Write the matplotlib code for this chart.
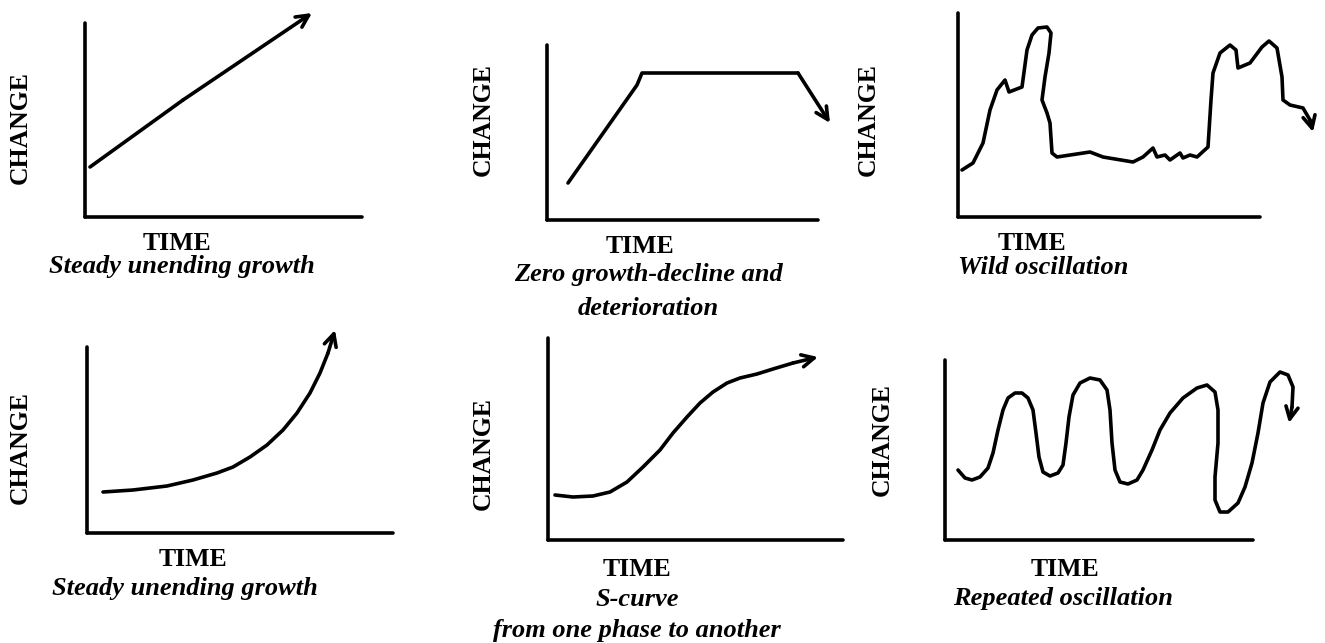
import matplotlib
matplotlib.use("Agg")
import matplotlib.pyplot as plt

W, H = 1325, 643

linear_time = [5, 98, 227]
linear_change = [50, 117, 204]

plateau_time = [21, 90, 95, 251, 283]
plateau_change = [37, 135, 147, 147, 97]

wild_time = [4, 15, 25, 32, 39, 47, 51, 64, 69, 74, 80, 89, 93, 91, 87, 84, 89, 92, 94, 99,
             132, 145, 175, 185, 195, 199, 207, 212, 222, 225, 232, 239, 250, 253, 255, 262,
             272, 278, 280, 292, 304, 311, 319, 324, 325, 332, 345, 352, 355]
wild_change = [47, 54, 74, 107, 127, 137, 125, 130, 167, 182, 189, 190, 184, 164, 140, 117, 104,
               94, 64, 60, 65, 60, 55, 60, 69, 60, 62, 57, 64, 59, 62, 60, 70, 117, 144, 164,
               172, 167, 149, 154, 170, 176, 169, 140, 117, 112, 109, 97, 85]

exp_time = [16, 46, 80, 106, 130, 146, 163, 180, 196, 210, 223, 233, 241, 248]
exp_change = [41, 43, 47, 53, 60, 66, 76, 88, 103, 120, 140, 160, 180, 203]

s_time = [7, 25, 45, 62, 79, 95, 112, 125, 139, 152, 165, 179, 192, 209, 225, 245, 270]
s_change = [45, 43, 44, 48, 58, 73, 90, 107, 123, 137, 148, 157, 162, 166, 171, 177, 183]

osc_time = [13, 20, 27, 35, 43, 48, 53, 58, 63, 70, 77, 83, 88, 91, 94, 98, 105, 113, 118,
            121, 124, 128, 135, 145, 155, 162, 165, 167, 170, 175, 183, 192, 198, 207, 215,
            225, 238, 252, 262, 270, 273, 273, 270, 270, 275, 283, 293, 300, 307, 313, 318,
            325, 335, 343, 348, 347, 344]
osc_change = [70, 62, 60, 63, 72, 87, 110, 130, 142, 147, 147, 142, 130, 107, 83, 68, 64, 67,
              75, 97, 123, 145, 157, 162, 160, 150, 130, 97, 70, 58, 56, 60, 70, 90, 110, 127,
              142, 152, 155, 148, 130, 97, 63, 40, 28, 28, 37, 53, 77, 107, 137, 158, 168, 165,
              153, 133, 117]

titles = [
    ["Steady unending growth"],
    ["Zero growth-decline and", "deterioration"],
    ["Wild oscillation"],
    ["Steady unending growth"],
    ["S-curve", "from one phase to another"],
    ["Repeated oscillation"],
]

# axis boxes in pixels: origin x, origin y (from top), width, height
panels = [
    (85, 217, 277, 194),
    (547, 220, 271, 175),
    (958, 217, 302, 204),
    (87, 533, 306, 186),
    (548, 540, 295, 202),
    (945, 540, 308, 180),
]
curves = [
    (linear_time, linear_change),
    (plateau_time, plateau_change),
    (wild_time, wild_change),
    (exp_time, exp_change),
    (s_time, s_change),
    (osc_time, osc_change),
]
# text anchor pixels: CHANGE, TIME, caption lines
label_pos = [
    ((20, 127), (177, 243), [(182, 267)]),
    ((483, 120), (640, 247), [(648, 275), (648, 308)]),
    ((868, 119), (1032, 244), [(1043, 267)]),
    ((20, 447), (193, 560), [(185, 588)]),
    ((483, 453), (637, 570), [(637, 600), (637, 630)]),
    ((882, 440), (1065, 570), [(1063, 598)]),
]

LW = 2.6
serif = ["Liberation Serif", "DejaVu Serif"]

fig = plt.figure(figsize=(W / 100, H / 100), dpi=100)
fig.patch.set_facecolor("white")


def fx(px):
    return px / W


def fy(py):
    return 1 - py / H


for (x0, y0, w, h), (t, c), (chg, tm, caps), cap_lines in zip(panels, curves, label_pos, titles):
    ax = fig.add_axes([fx(x0), fy(y0), w / W, h / H])
    ax.set_xlim(0, w)
    ax.set_ylim(0, h)
    ax.set_facecolor("none")
    for side in ("top", "right"):
        ax.spines[side].set_visible(False)
    for side in ("left", "bottom"):
        ax.spines[side].set_linewidth(LW)
        ax.spines[side].set_capstyle("round")
    ax.set_xticks([])
    ax.set_yticks([])

    ax.plot(t[:-1], c[:-1], color="black", lw=LW, solid_joinstyle="round",
            solid_capstyle="round", clip_on=False)
    ax.annotate("", xy=(t[-1], c[-1]), xytext=(t[-2], c[-2]),
                arrowprops=dict(arrowstyle="->", lw=LW, color="black",
                                mutation_scale=22, shrinkA=0, shrinkB=0),
                annotation_clip=False)

    fig.text(fx(chg[0]), fy(chg[1]), "CHANGE", rotation=90, ha="center", va="center",
             fontsize=18.5, fontweight="bold", family=serif)
    fig.text(fx(tm[0]), fy(tm[1]), "TIME", ha="center", va="center",
             fontsize=18.5, fontweight="bold", family=serif)
    for (cx, cy), line in zip(caps, cap_lines):
        fig.text(fx(cx), fy(cy), line, ha="center", va="center", fontsize=19,
                 fontweight="bold", fontstyle="italic", family=serif)

fig.savefig("out.png", dpi=100, facecolor="white")
